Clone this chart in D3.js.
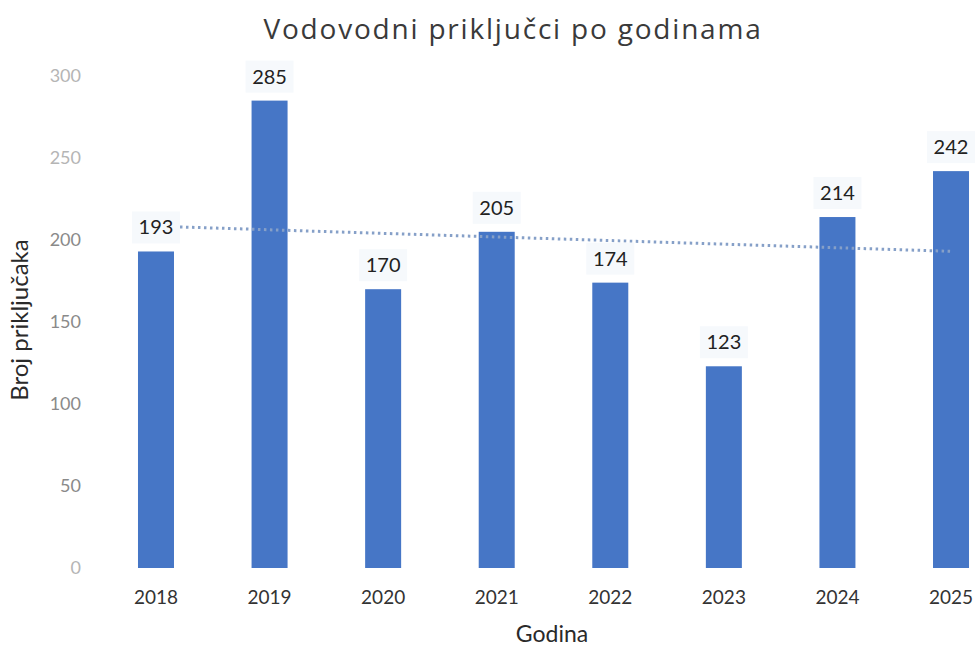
<!DOCTYPE html>
<html><head><meta charset="utf-8">
<script src="https://cdn.jsdelivr.net/npm/d3@7"></script>
<style>body{margin:0;background:#fff}svg{display:block}</style>
</head><body>
<svg id="c" width="975" height="647"></svg>
<script>
const years = ["2018","2019","2020","2021","2022","2023","2024","2025"];
const values = [193, 285, 170, 205, 174, 123, 214, 242];
const yTicks = [0, 50, 100, 150, 200, 250, 300];
const title = "Vodovodni priključci po godinama";
const xTitle = "Godina";
const yTitle = "Broj priključaka";

const svg = d3.select("#c");
const x = d3.scaleBand().domain(years).range([99.2, 1007.8]).paddingInner(0.683).paddingOuter(0.3415);
const y = d3.scaleLinear().domain([0, 300]).range([568, 76]);

// linear trend from data (least squares)
const n = values.length;
const mx = (n - 1) / 2, my = d3.mean(values);
let sxy = 0, sxx = 0;
values.forEach((v, i) => { sxy += (i - mx) * (v - my); sxx += (i - mx) * (i - mx); });
const slope = sxy / sxx;
const trend = [my - slope * mx, my + slope * (n - 1 - mx)];

// title
svg.append("text").attr("x", 513).attr("y", 39).attr("text-anchor", "middle")
  .attr("font-family", "Open Sans, sans-serif").attr("font-size", 28).attr("font-weight", 500)
  .attr("letter-spacing", 1.8).attr("fill", "#3a3a3a").text(title);

// y axis
const yAxis = svg.append("g").attr("transform", "translate(81,0)")
  .call(d3.axisLeft(y).tickValues(yTicks).tickSize(0).tickPadding(0));
yAxis.select(".domain").remove();
yAxis.selectAll("text").attr("font-family", "Lato, sans-serif").attr("font-size", 18)
  .attr("fill", d => d >= 250 || d === 0 ? "#b5b5b5" : "#8a8a8a");

// x axis
const xAxis = svg.append("g").attr("transform", "translate(0,590)")
  .call(d3.axisBottom(x).tickSize(0).tickPadding(0));
xAxis.select(".domain").remove();
xAxis.selectAll("text").attr("font-family", "Lato, sans-serif").attr("font-size", 19)
  .attr("fill", "#333").attr("dy", "0.75em");

// axis titles
svg.append("text").attr("x", 552).attr("y", 642).attr("text-anchor", "middle")
  .attr("font-family", "Lato, sans-serif").attr("font-size", 23).attr("fill", "#2a2a2a").text(xTitle);
svg.append("text").attr("transform", "translate(28,320) rotate(-90)").attr("text-anchor", "middle")
  .attr("font-family", "Lato, sans-serif").attr("font-size", 24).attr("fill", "#2a2a2a").text(yTitle);

// bars
svg.append("g").selectAll("rect").data(values).join("rect")
  .attr("x", (d, i) => x(years[i])).attr("width", x.bandwidth())
  .attr("y", d => y(d)).attr("height", d => y(0) - y(d))
  .attr("fill", "#4676c6");

// trend line (dotted)
svg.append("line")
  .attr("x1", x(years[0]) + x.bandwidth() / 2).attr("y1", y(trend[0]))
  .attr("x2", x(years[n - 1]) + x.bandwidth() / 2).attr("y2", y(trend[1]))
  .attr("stroke", "#86a0c8").attr("stroke-width", 3).attr("stroke-dasharray", "2.5,3.5");

// data labels with faint background
const lab = svg.append("g").selectAll("g").data(values).join("g")
  .attr("transform", (d, i) => `translate(${x(years[i]) + x.bandwidth() / 2},${y(d) - 24})`);
lab.append("rect").attr("x", -24).attr("y", -16).attr("width", 48).attr("height", 32)
  .attr("fill", "#f6f9fc");
lab.append("text").attr("text-anchor", "middle").attr("dy", "0.35em")
  .attr("font-family", "Lato, sans-serif").attr("font-size", 20).attr("fill", "#222")
  .text(d => d);
</script>
</body></html>
